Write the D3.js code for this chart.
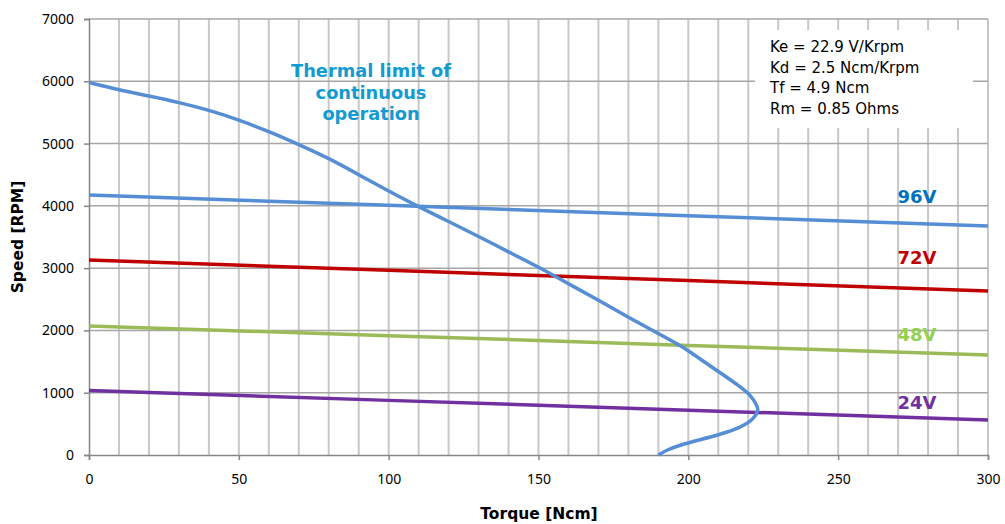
<!DOCTYPE html>
<html><head><meta charset="utf-8">
<script src="https://cdn.jsdelivr.net/npm/d3@7"></script>
<style>body{margin:0;background:#fff}svg{display:block}</style>
</head><body>
<svg id="c" width="1005" height="524"></svg>
<script>
const xTicks = [0, 50, 100, 150, 200, 250, 300];
const yTicks = [0, 1000, 2000, 3000, 4000, 5000, 6000, 7000];
const lineTorque = [0, 100, 200, 300];
const speed96 = [4174, 4008, 3842, 3676];
const speed72 = [3130, 2965, 2800, 2633];
const speed48 = [2071, 1916, 1760, 1605];
const speed24 = [1035, 877, 720, 562];
const voltLabels = ["96V", "72V", "48V", "24V"];
const thermalTorque = [0, 10, 20, 30, 40, 50, 60, 70, 80, 90, 100, 110, 120, 130, 140, 150, 160, 170, 180, 190, 197, 200, 210, 217, 221, 222.9, 223.5, 221.8, 217.2, 210.5, 203.9, 197.2, 192.8, 190];
const thermalSpeed = [5980, 5862, 5763, 5661, 5538, 5380, 5195, 4985, 4765, 4500, 4235, 3985, 3750, 3510, 3260, 3018, 2750, 2485, 2210, 1950, 1766, 1675, 1340, 1110, 955, 790, 722, 570, 435, 330, 245, 160, 80, 0];
const paramText = ["Ke = 22.9 V/Krpm", "Kd = 2.5 Ncm/Krpm", "Tf = 4.9 Ncm", "Rm = 0.85 Ohms"];
const thermalText = ["Thermal limit of", "continuous", "operation"];

const svg = d3.select("#c");
const x = d3.scaleLinear().domain([0, 300]).range([89, 988]);
const y = d3.scaleLinear().domain([0, 7000]).range([455, 19]);

// vertical grid every 10
svg.append("g").selectAll("line").data(d3.range(10, 301, 10)).join("line")
  .attr("x1", d => x(d)).attr("x2", d => x(d)).attr("y1", y(7000)).attr("y2", y(0))
  .attr("stroke", "#c8c8c8").attr("stroke-width", 2);
// horizontal grid
svg.append("g").selectAll("line").data(yTicks.slice(1)).join("line")
  .attr("x1", x(0)).attr("x2", x(300)).attr("y1", d => y(d)).attr("y2", d => y(d))
  .attr("stroke", "#a6a6a6").attr("stroke-width", 1.5);

// parameter box
svg.append("rect").attr("x", 755).attr("y", 30).attr("width", 218).attr("height", 98).attr("fill", "#fff");
svg.append("g").selectAll("text").data(paramText).join("text")
  .attr("x", 770).attr("y", (d, i) => 52 + i * 20.5)
  .attr("font-family", "DejaVu Sans").attr("font-size", 15).attr("fill", "#000").text(d => d);

// axes
const xAxis = svg.append("g").attr("transform", `translate(0,${y(0)})`)
  .call(d3.axisBottom(x).tickValues(xTicks).tickFormat(d3.format("d")).tickSize(5).tickPadding(14));
const yAxis = svg.append("g").attr("transform", `translate(${x(0)},0)`)
  .call(d3.axisLeft(y).tickValues(yTicks).tickFormat(d3.format("d")).tickSize(5).tickPadding(10));
[xAxis, yAxis].forEach(a => {
  a.select(".domain").attr("stroke", "#868686").attr("stroke-width", 1.5);
  a.selectAll(".tick line").attr("stroke", "#868686").attr("stroke-width", 1.5);
  a.selectAll(".tick text").attr("font-family", "Noto Sans").attr("font-size", 14).attr("fill", "#000");
});

// lines
const line = d3.line().x(d => x(d[0])).y(d => y(d[1]));
const series = [
  {v: speed96, c: "#558ed5", lc: "#0070c0", ly: 197},
  {v: speed72, c: "#c00000", lc: "#c00000", ly: 258},
  {v: speed48, c: "#9bbb59", lc: "#92d050", ly: 335},
  {v: speed24, c: "#7030a0", lc: "#7030a0", ly: 403}
];
series.forEach(s => {
  svg.append("path").datum(lineTorque.map((t, i) => [t, s.v[i]]))
    .attr("d", line).attr("fill", "none").attr("stroke", s.c).attr("stroke-width", 3.5);
});
svg.append("path").datum(thermalTorque.map((t, i) => [t, thermalSpeed[i]]))
  .attr("d", d3.line().x(d => x(d[0])).y(d => y(d[1])).curve(d3.curveBasis))
  .attr("fill", "none").attr("stroke", "#558ed5").attr("stroke-width", 3.5);

// voltage labels
svg.append("g").selectAll("text").data(series).join("text")
  .attr("x", 917).attr("y", d => d.ly).attr("dy", "0.35em").attr("text-anchor", "middle")
  .attr("font-family", "DejaVu Sans").attr("font-weight", "bold").attr("font-size", 18)
  .attr("fill", d => d.lc).text((d, i) => voltLabels[i]);

// thermal annotation
svg.append("g").selectAll("text").data(thermalText).join("text")
  .attr("x", 371).attr("y", (d, i) => 71 + i * 21.5).attr("dy", "0.35em").attr("text-anchor", "middle")
  .attr("font-family", "DejaVu Sans").attr("font-weight", "bold").attr("font-size", 17.8)
  .attr("fill", "#129bd1").text(d => d);

// axis titles
svg.append("text").attr("x", 539).attr("y", 514).attr("dy", "0.35em").attr("text-anchor", "middle")
  .attr("font-family", "DejaVu Sans").attr("font-weight", "bold").attr("font-size", 15.5).text("Torque [Ncm]");
svg.append("text").attr("transform", "translate(18,237) rotate(-90)").attr("dy", "0.35em").attr("text-anchor", "middle")
  .attr("font-family", "DejaVu Sans").attr("font-weight", "bold").attr("font-size", 15.5).text("Speed [RPM]");
</script>
</body></html>
